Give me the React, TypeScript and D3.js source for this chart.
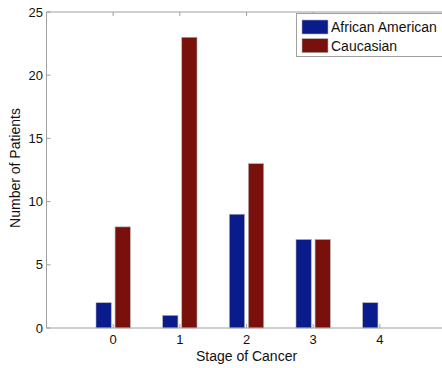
import React from "react";
import * as d3 from "d3";

const stages = [0, 1, 2, 3, 4];
const africanAmerican = [2, 1, 9, 7, 2];
const caucasian = [8, 23, 13, 7, 0];
const yTicks = [0, 5, 10, 15, 20, 25];
const seriesNames = ["African American", "Caucasian"];
const seriesColors = ["#0a1c8c", "#7a100b"];

export default function App() {
  const W = 442, H = 368;
  const left = 46.5, right = 446.5, top = 12, bottom = 328;
  const x = d3.scaleLinear().domain([-1, 5]).range([left, right]);
  const y = d3.scaleLinear().domain([0, 25]).range([bottom, top]);
  const unit = x(1) - x(0);
  const bw = unit * 0.229;
  const off = unit * 0.143;
  const series = [africanAmerican, caucasian];
  const font = "'Liberation Sans', Arial, Helvetica, sans-serif";
  const axisColor = "#a0a0a0";
  return (
    <svg width={W} height={H} style={{ position: "absolute", left: 0, top: 0, background: "#fff" }} fontFamily={font}>
      {series.map((vals, si) =>
        vals.map((v, i) =>
          v > 0 ? (
            <rect
              key={`${si}-${i}`}
              x={x(stages[i]) + (si === 0 ? -off : off) - bw / 2}
              y={y(v)}
              width={bw}
              height={y(0) - y(v)}
              fill={seriesColors[si]}
              stroke="#b0b0b0"
              strokeWidth={0.6}
            />
          ) : null
        )
      )}
      <line x1={left} x2={right} y1={bottom} y2={bottom} stroke={axisColor} strokeWidth={1} />
      <line x1={left} x2={right} y1={top} y2={top} stroke={axisColor} strokeWidth={1} />
      <line x1={left} x2={left} y1={top} y2={bottom} stroke={axisColor} strokeWidth={1} />
      {stages.map((s) => (
        <g key={s}>
          <line x1={x(s)} x2={x(s)} y1={bottom} y2={bottom - 4} stroke={axisColor} />
          <line x1={x(s)} x2={x(s)} y1={top} y2={top + 4} stroke={axisColor} />
          <text x={x(s)} y={343.5} textAnchor="middle" fontSize={13} fill="#111">{s}</text>
        </g>
      ))}
      {yTicks.map((t) => (
        <g key={t}>
          <line x1={left} x2={left + 4} y1={y(t)} y2={y(t)} stroke={axisColor} />
          <text x={43} y={y(t) + 4.6} textAnchor="end" fontSize={13} fill="#111">{t}</text>
        </g>
      ))}
      <text x={(x(0) + x(4)) / 2} y={361} textAnchor="middle" fontSize={14} fill="#111">Stage of Cancer</text>
      <text transform={`translate(20,${168}) rotate(-90)`} textAnchor="middle" fontSize={14} fill="#111">Number of Patients</text>
      <rect x={296.5} y={13.5} width={160} height={43} fill="#fff" stroke={axisColor} strokeWidth={1} />
      {seriesNames.map((n, i) => (
        <g key={n}>
          <rect x={302} y={20 + i * 18.7} width={26} height={14} fill={seriesColors[i]} stroke="#b0b0b0" strokeWidth={0.6} />
          <text x={331} y={32 + i * 18.7} fontSize={14} fill="#111">{n}</text>
        </g>
      ))}
    </svg>
  );
}
